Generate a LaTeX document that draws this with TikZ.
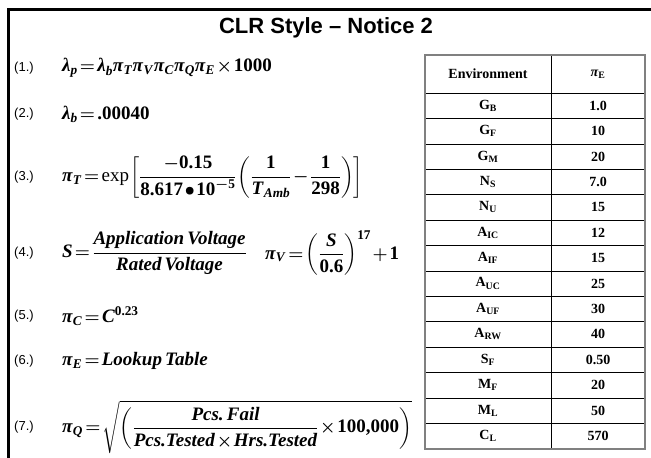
\documentclass[tikz,border=0pt]{standalone}
\usepackage{amsmath}
\usepackage{fontspec}
\setmainfont{Liberation Serif}
\newfontfamily\sansfont{Liberation Sans}
\usepackage{tikz}
\usetikzlibrary{positioning}

\newcommand{\vb}[1]{\textbf{\textit{#1}}}
\newcommand{\gl}{\textbf{\textit{λ}}}
\newcommand{\gp}{\textbf{\textit{π}}}
\newcommand{\tightmath}{\thickmuskip=2mu\medmuskip=1.5mu\thinmuskip=1mu}

\begin{document}
\begin{tikzpicture}[x=1pt,y=-1pt]
        \tikzstyle{every node}+=[inner sep=0pt]
        \tikzstyle{eqlabel}=[anchor=west,font=\sansfont\fontsize{13}{15}\selectfont]
        \tikzstyle{eqn}=[anchor=west,font=\boldmath\tightmath\fontsize{19}{22}\selectfont]
        \tikzstyle{cell}=[font=\bfseries\fontsize{14}{16}\selectfont]
        \useasboundingbox (0,0) rectangle (651,458);
        \fill [white] (0,0) rectangle (651,458);
        % frame and title
        \draw [black,line width=3pt] (8,458) -- (8,9) -- (651,9);
        \draw (326,28) node [font=\sansfont\bfseries\fontsize{22}{26}\selectfont] (title) {CLR Style – Notice 2};
        % equations
        \draw (14,68) node [eqlabel] (l1) {(1.)};
        \draw (62,68) node [eqn] (eq1) {$\gl_{\vb{p}} = \gl_{\vb{b}}\gp_{\vb{T}}\gp_{\vb{V}}\gp_{\vb{C}}\gp_{\vb{Q}}\gp_{\vb{E}}\times\textbf{1000}$};
        \draw (14,114) node [eqlabel] (l2) {(2.)};
        \draw (62,114) node [eqn] (eq2) {$\gl_{\vb{b}} = \textbf{.00040}$};
        \draw (14,177) node [eqlabel] (l3) {(3.)};
        \draw (62,177) node [eqn] (eq3) {$\gp_{\vb{T}} = \textmd{exp}\left[\dfrac{-\textbf{0.15}}{\textbf{8.617}\bullet\textbf{10}^{-\textbf{5}}}\left(\dfrac{\textbf{1}}{\vb{T}_{\vb{Amb}}}-\dfrac{\textbf{1}}{\textbf{298}}\right)\right]$};
        \draw (14,253) node [eqlabel] (l4) {(4.)};
        \draw (62,253) node [eqn] (eq4) {$\vb{S} = \dfrac{\vb{Application\,Voltage}}{\vb{Rated\,Voltage}}$};
        \node [eqn,right=18pt of eq4] (eq4v) {$\gp_{\vb{V}} = \left(\dfrac{\vb{S}}{\textbf{0.6}}\right)^{\textbf{17}} + \textbf{1}$};
        \draw (14,316) node [eqlabel] (l5) {(5.)};
        \draw (62,316) node [eqn] (eq5) {$\gp_{\vb{C}} = \vb{C}^{\textbf{0.23}}$};
        \draw (14,361) node [eqlabel] (l6) {(6.)};
        \draw (62,361) node [eqn] (eq6) {$\gp_{\vb{E}} = \vb{Lookup\,Table}$};
        \draw (14,427) node [eqlabel] (l7) {(7.)};
        \draw (62,427) node [eqn] (eq7) {$\gp_{\vb{Q}} = \sqrt{\left(\dfrac{\vb{Pcs.\,Fail}}{\vb{Pcs.Tested}\times\vb{Hrs.Tested}}\times\textbf{100,000}\right)}$};
        % environment table
        \draw [black] (425,93) -- (645,93);
        \foreach \r in {1,...,13}
            \draw [black] (425,93+25.4*\r) -- (645,93+25.4*\r);
        \draw [black] (551,55) -- (551,449);
        \draw [gray,line width=1.2pt] (425,55) rectangle (645,449);
        \draw (488,74) node [cell] (envhead) {Environment};
        \draw (598,74) node [cell] (pihead) {\textit{π}$_{\textbf{E}}$};
        \foreach \e/\s/\v [count=\i] in {G/B/1.0,G/F/10,G/M/20,N/S/7.0,N/U/15,A/IC/12,A/IF/15,A/UC/25,A/UF/30,A/RW/40,S/F/0.50,M/F/20,M/L/50,C/L/570} {
            \draw (488,93+25.4*\i-12.7) node [cell] (env\i) {\e$_{\textbf{\s}}$};
            \draw (598,93+25.4*\i-12.7) node [cell] (val\i) {\v};
        }
\end{tikzpicture}
\end{document}
